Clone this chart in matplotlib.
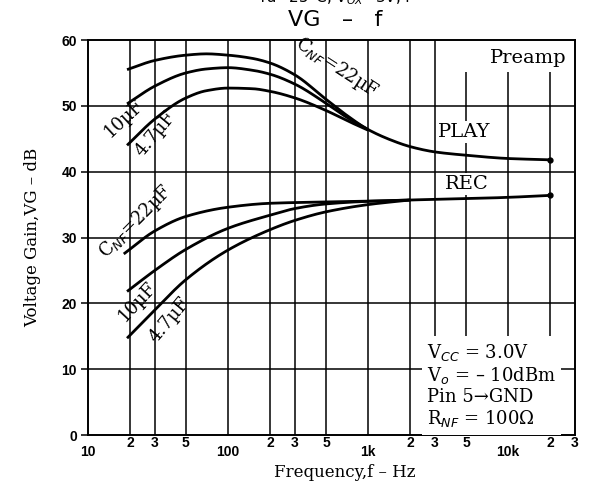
import numpy as np
import matplotlib
matplotlib.use("Agg")
import matplotlib.pyplot as plt
from matplotlib.patches import Rectangle
from matplotlib.ticker import FixedLocator

# data (Hz, dB)
f_play_22 = [19, 30, 50, 70, 100, 150, 200, 300, 500, 700, 1000, 1500, 2000, 3000, 5000, 10000, 20000]
vg_play_22 = [55.5, 56.9, 57.7, 57.9, 57.7, 57.2, 56.5, 54.7, 51.0, 48.6, 46.4, 44.7, 43.8, 43.0, 42.5, 42.0, 41.8]
f_play_10 = [19, 30, 50, 70, 100, 150, 200, 300, 500, 700, 1000]
vg_play_10 = [50.3, 53.0, 55.0, 55.6, 55.8, 55.4, 54.8, 53.3, 50.4, 48.3, 46.4]
f_play_47 = [19, 30, 50, 70, 100, 150, 200, 300, 500, 700, 1000]
vg_play_47 = [44.0, 48.0, 51.2, 52.3, 52.7, 52.6, 52.2, 51.2, 49.3, 47.8, 46.3]

f_rec_22 = [18, 30, 50, 100, 200, 500, 1000, 2000, 5000, 10000, 20000]
vg_rec_22 = [27.5, 31.0, 33.2, 34.6, 35.2, 35.4, 35.5, 35.7, 35.9, 36.1, 36.4]
f_rec_10 = [19, 30, 50, 100, 200, 300, 500, 1000, 2000]
vg_rec_10 = [21.8, 25.0, 28.2, 31.4, 33.4, 34.4, 35.1, 35.5, 35.7]
f_rec_47 = [19, 30, 50, 100, 200, 300, 500, 1000, 2000]
vg_rec_47 = [14.7, 19.0, 23.6, 28.1, 31.2, 32.6, 33.9, 35.0, 35.7]

major_f = [10, 100, 1000, 10000]
major_lbl = ["10", "100", "1k", "10k"]
minor_f = [20, 30, 50, 200, 300, 500, 2000, 3000, 5000, 20000, 30000]
minor_lbl = ["2", "3", "5", "2", "3", "5", "2", "3", "5", "2", "3"]
y_ticks = [0, 10, 20, 30, 40, 50, 60]

serif = "DejaVu Serif"
sans = "Liberation Sans"


def pchip(fs, vs, n=300):
    # monotone cubic through the read points, in log-frequency
    x = np.log10(np.asarray(fs, float))
    y = np.asarray(vs, float)
    h = np.diff(x)
    d = np.diff(y) / h
    m = np.zeros_like(y)
    for i in range(1, len(y) - 1):
        if d[i - 1] * d[i] > 0:
            w1 = 2 * h[i] + h[i - 1]
            w2 = h[i] + 2 * h[i - 1]
            m[i] = (w1 + w2) / (w1 / d[i - 1] + w2 / d[i])
    m[0] = d[0]
    m[-1] = d[-1]
    xs = np.linspace(x[0], x[-1], n)
    idx = np.clip(np.searchsorted(x, xs) - 1, 0, len(h) - 1)
    t = (xs - x[idx]) / h[idx]
    h00 = 2 * t**3 - 3 * t**2 + 1
    h10 = t**3 - 2 * t**2 + t
    h01 = -2 * t**3 + 3 * t**2
    h11 = t**3 - t**2
    ys = h00 * y[idx] + h10 * h[idx] * m[idx] + h01 * y[idx + 1] + h11 * h[idx] * m[idx + 1]
    return 10 ** xs, ys


fig = plt.figure(figsize=(5.93, 4.88), dpi=100)
ax = fig.add_axes([0.1484, 0.1086, 0.8212, 0.8094])
ax.set_xscale("log")
ax.set_xlim(10, 30000)
ax.set_ylim(0, 60)

# grid
for f in major_f[1:] + minor_f[:-1]:
    ax.axvline(f, color="black", lw=1.1, zorder=1)
for v in y_ticks[1:-1]:
    ax.axhline(v, color="black", lw=1.1, zorder=1)

for fs, vs in [(f_play_22, vg_play_22), (f_play_10, vg_play_10), (f_play_47, vg_play_47),
               (f_rec_22, vg_rec_22), (f_rec_10, vg_rec_10), (f_rec_47, vg_rec_47)]:
    xs, ys = pchip(fs, vs)
    ax.plot(xs, ys, color="black", lw=2.0, zorder=3, solid_capstyle="butt")

ax.plot([f_play_22[-1], f_rec_22[-1]], [vg_play_22[-1], vg_rec_22[-1]], "o",
        color="black", ms=3.5, zorder=4)

# axes / ticks
ax.xaxis.set_major_locator(FixedLocator(major_f))
ax.xaxis.set_minor_locator(FixedLocator(minor_f))
ax.set_xticklabels(major_lbl)
ax.set_xticklabels(minor_lbl, minor=True)
ax.tick_params(axis="x", which="major", length=0, pad=7, labelsize=10)
ax.tick_params(axis="x", which="minor", length=0, pad=1, labelsize=10)
ax.set_yticks(y_ticks)
ax.tick_params(axis="y", length=5, width=1.1, pad=3, labelsize=10)
for lab in ax.get_xticklabels(which="both") + ax.get_yticklabels():
    lab.set_fontfamily(sans)
    lab.set_fontweight("bold")
for s in ax.spines.values():
    s.set_linewidth(1.4)

ax.set_ylabel("Voltage Gain,VG – dB", family=serif, fontsize=12)
ax.yaxis.set_label_coords(-0.097, 0.5)
ax.set_xlabel("Frequency,f – Hz", family=serif, fontsize=12)
ax.xaxis.set_label_coords(0.528, -0.074)

fig.text(0.565, 0.958, "VG   –   f", ha="center", va="center", fontsize=16, family="DejaVu Sans")
fig.text(0.565, 1.006, "Ta=25°C, V$_{OX}$=3V, f", ha="center", va="center", fontsize=11,
         family="DejaVu Sans")

wb = dict(facecolor="white", edgecolor="none", pad=1.5)
tk = dict(family=serif, fontsize=13, ha="center", va="center", zorder=5)

ax.text(0.51, 0.93, "C$_{NF}$=22µF", rotation=-33, transform=ax.transAxes, **tk)
ax.text(0.074, 0.803, "10µF", rotation=43, transform=ax.transAxes, **tk)
ax.text(0.138, 0.762, "4.7µF", rotation=50, transform=ax.transAxes, **tk)
ax.text(0.097, 0.539, "C$_{NF}$=22µF", rotation=45, transform=ax.transAxes, **tk)
ax.text(0.101, 0.337, "10µF", rotation=47, transform=ax.transAxes, **tk)
ax.text(0.168, 0.291, "4.7µF", rotation=50, transform=ax.transAxes, **tk)

# blank corner behind "Preamp"
ax.add_patch(Rectangle((0.754, 0.919), 0.246, 0.081, transform=ax.transAxes,
                       facecolor="white", edgecolor="none", zorder=2))
tk14 = dict(tk, fontsize=14)
ax.text(0.905, 0.955, "Preamp", transform=ax.transAxes, **tk14)
ax.text(0.772, 0.767, "PLAY", transform=ax.transAxes, bbox=wb, **tk14)
ax.text(0.777, 0.635, "REC", transform=ax.transAxes, bbox=wb, **tk14)

box = "V$_{CC}$ = 3.0V\nV$_o$ = – 10dBm\nPin 5→GND\nR$_{NF}$ = 100Ω"
ax.text(0.696, 0.014, box, transform=ax.transAxes, family=serif, fontsize=13,
        ha="left", va="bottom", linespacing=1.15, zorder=5,
        bbox=dict(facecolor="white", edgecolor="none", boxstyle="square,pad=0.3"))

fig.savefig("out.png", dpi=100)
